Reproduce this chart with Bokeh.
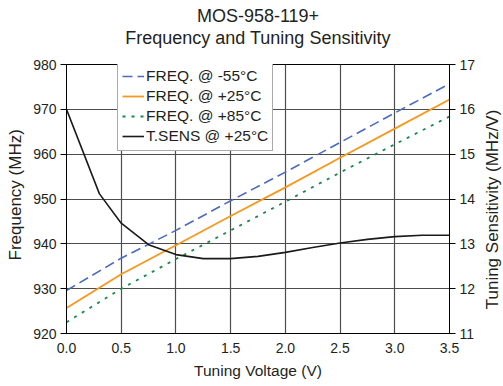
import math
from bokeh.plotting import figure
from bokeh.layouts import row
from bokeh.models import Range1d, LinearAxis, Legend, LegendItem, Title, FixedTicker, PrintfTickFormatter, Label
from bokeh.embed import file_html
from bokeh.resources import INLINE

# ---- data ----
voltage = [0.0, 0.5, 1.0, 1.5, 2.0, 2.5, 3.0, 3.5]
freq_m55 = [929.6, 936.8, 943.0, 949.6, 956.0, 962.6, 969.2, 975.7]
freq_p25 = [925.7, 933.2, 939.7, 946.2, 952.6, 959.2, 965.7, 972.2]
freq_p85 = [922.5, 930.0, 936.6, 943.0, 949.4, 955.9, 962.2, 968.4]

sens_voltage = [0.0, 0.3, 0.5, 0.75, 1.0, 1.25, 1.5, 1.75, 2.0, 2.25, 2.5, 2.75, 3.0, 3.25, 3.5]
sens_p25 = [16.0, 14.12, 13.46, 12.98, 12.76, 12.67, 12.67, 12.72, 12.81, 12.92, 13.02, 13.10, 13.16, 13.19, 13.19]

x_ticks = [0.0, 0.5, 1.0, 1.5, 2.0, 2.5, 3.0, 3.5]
y_ticks = [920, 930, 940, 950, 960, 970, 980]
y2_ticks = [11, 12, 13, 14, 15, 16, 17]

FONT = "Liberation Sans"
TXT = "#231f20"
H = 386

fig = figure(width=451, height=H, output_backend="svg", toolbar_location=None,
             x_range=Range1d(0, 3.5), y_range=Range1d(920, 980),
             min_border_left=36, min_border_right=32, min_border_top=64, min_border_bottom=53)
fig.extra_y_ranges = {"sens": Range1d(11, 17)}

fig.outline_line_color = "black"
fig.outline_line_width = 1
fig.background_fill_color = "white"
fig.border_fill_color = "white"

# titles (later added is further out); a tiny spacer keeps the lines off the frame
fig.add_layout(Title(text=" ", text_font_size="1px", standoff=14), "above")
fig.add_layout(Title(text="Frequency and Tuning Sensitivity", align="center",
                     text_font=FONT, text_font_size="18px", text_font_style="normal",
                     text_color=TXT, text_line_height=1.0, standoff=0), "above")
fig.add_layout(Title(text="MOS-958-119+", align="center",
                     text_font=FONT, text_font_size="18px", text_font_style="normal",
                     text_color=TXT, text_line_height=1.0, standoff=0), "above")

# grid
for g in (fig.xgrid, fig.ygrid):
    g.grid_line_color = "#4d4d4d"
    g.grid_line_width = 1.2
fig.xaxis.ticker = FixedTicker(ticks=x_ticks)
fig.yaxis.ticker = FixedTicker(ticks=y_ticks)

fig.xaxis.axis_label = "Tuning Voltage (V)"
fig.xaxis.formatter = PrintfTickFormatter(format="%.1f")
fig.yaxis.formatter = PrintfTickFormatter(format="%d")

right = LinearAxis(y_range_name="sens", ticker=FixedTicker(ticks=y2_ticks))
fig.add_layout(right, "right")

for ax in (fig.xaxis[0], fig.yaxis[0], right):
    ax.axis_label_text_font = FONT
    ax.axis_label_text_font_size = "15.5px"
    ax.axis_label_text_font_style = "normal"
    ax.axis_label_text_color = TXT
    ax.major_label_text_font = FONT
    ax.major_label_text_font_size = "14px"
    ax.major_label_text_color = TXT
    ax.axis_line_color = "black"
    ax.major_tick_line_color = "black"
    ax.minor_tick_line_color = None
    ax.major_tick_in = 0
    ax.major_tick_out = 6
    ax.major_label_standoff = 4

fig.xaxis.major_tick_out = 0
fig.xaxis.major_label_standoff = 9
fig.xaxis.axis_label_standoff = 6

# lines
r1 = fig.line(voltage, freq_m55, line_color="#4a6bbf", line_width=1.6, line_dash="10 5")
r2 = fig.line(voltage, freq_p25, line_color="#f7981d", line_width=1.8)
r3 = fig.line(voltage, freq_p85, line_color="#168a45", line_width=1.8, line_dash="3 6")
r4 = fig.line(sens_voltage, sens_p25, line_color="#1a1a1a", line_width=1.6, y_range_name="sens")

legend = Legend(items=[
    LegendItem(label="FREQ. @ -55°C", renderers=[r1]),
    LegendItem(label="FREQ. @ +25°C", renderers=[r2]),
    LegendItem(label="FREQ. @ +85°C", renderers=[r3]),
    LegendItem(label="T.SENS @ +25°C", renderers=[r4]),
], location=(51, 182))
legend.label_text_font = FONT
legend.label_text_font_size = "15.5px"
legend.label_text_color = TXT
legend.border_line_color = "#555555"
legend.border_line_width = 1
legend.background_fill_alpha = 1.0
legend.padding = 4
legend.spacing = 0
legend.margin = 0
legend.glyph_width = 22
legend.glyph_height = 20
legend.label_height = 20
legend.label_standoff = 2
fig.add_layout(legend, "center")


def side_label(width, text, sx, sy):
    q = figure(width=width, height=H, output_backend="svg", toolbar_location=None,
               x_range=Range1d(0, width), y_range=Range1d(0, H),
               x_axis_type=None, y_axis_type=None,
               min_border=0, min_border_left=0, min_border_right=0,
               min_border_top=0, min_border_bottom=0)
    q.outline_line_color = None
    q.xgrid.visible = False
    q.ygrid.visible = False
    q.background_fill_color = "white"
    q.border_fill_color = "white"
    q.add_layout(Label(x=sx, y=H - sy, text=text, angle=math.pi / 2,
                       text_align="center", text_baseline="middle",
                       text_font=FONT, text_font_size="17px", text_color=TXT))
    return q


left_lab = side_label(30, "Frequency (MHz)", 15, 187)
right_lab = side_label(22, "Tuning Sensitivity (MHz/V)", 11, 208)

p = row(left_lab, fig, right_lab, spacing=0)

open("out.html", "w").write(file_html(p, INLINE))
